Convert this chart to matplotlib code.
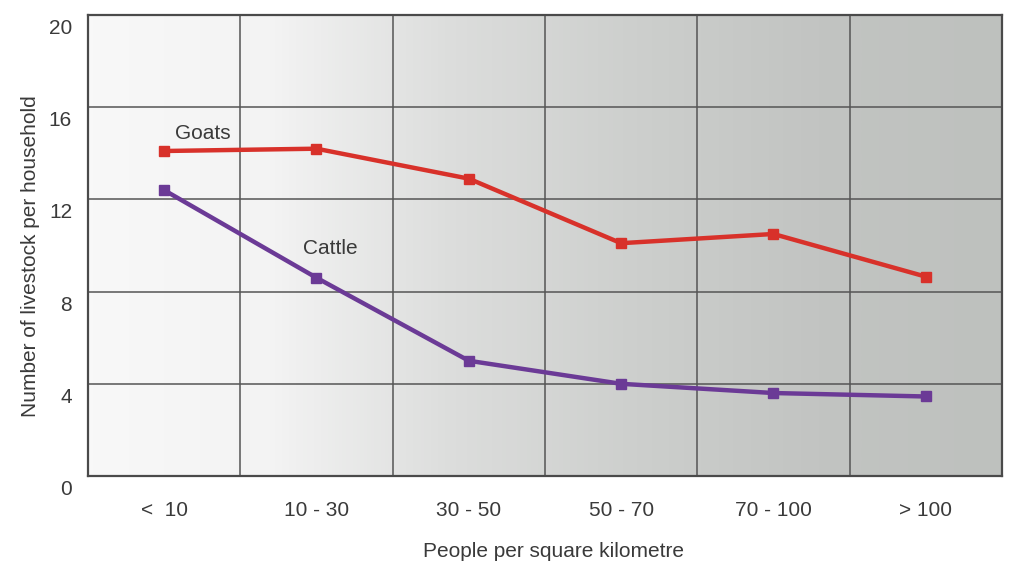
import numpy as np
import matplotlib
matplotlib.use("Agg")
import matplotlib.pyplot as plt
from matplotlib.colors import LinearSegmentedColormap
from matplotlib.transforms import ScaledTranslation

plt.rcParams['font.family'] = ['Liberation Sans', 'DejaVu Sans']

# Data
density_classes = ["<  10", "10 - 30", "30 - 50", "50 - 70", "70 - 100", "> 100"]
goats = [14.1, 14.2, 12.9, 10.1, 10.5, 8.65]
cattle = [12.4, 8.6, 5.0, 4.0, 3.6, 3.45]
y_ticks = [0, 4, 8, 12, 16, 20]

text_color = "#3a3a3a"
grid_color = "#555555"
goat_color = "#d8312a"
cattle_color = "#6b3a96"
fs = 15

fig = plt.figure(figsize=(10.13, 5.66), dpi=100)
ax = fig.add_axes([0.0869, 0.159, 0.9021, 0.8145])

x = np.arange(len(density_classes))
ax.set_xlim(-0.5, len(density_classes) - 0.5)
ax.set_ylim(0, 20)

# Shaded background, light on the left fading to grey on the right
cmap = LinearSegmentedColormap.from_list(
    "shade", ["#f8f8f8", "#f3f3f3", "#dcdddc", "#cdcfcd", "#c2c4c2", "#bec1be"])
grad = np.linspace(0, 1, 256).reshape(1, -1)
ax.imshow(grad, cmap=cmap, aspect="auto", extent=(-0.5, 5.5, 0, 20),
          zorder=0, interpolation="bicubic")

# Grid: horizontal at value ticks, vertical between categories
for yv in y_ticks[1:-1]:
    ax.axhline(yv, color=grid_color, lw=1.1, zorder=1)
for xb in np.arange(0.5, len(density_classes) - 0.5, 1.0):
    ax.axvline(xb, color=grid_color, lw=1.1, zorder=1)

for side in ax.spines.values():
    side.set_color("#4a4a4a")
    side.set_linewidth(1.6)

ax.plot(x, goats, color=goat_color, lw=3.2, marker="s", ms=6.5, zorder=3)
ax.plot(x, cattle, color=cattle_color, lw=3.2, marker="s", ms=6.5, zorder=3)

ax.text(0.07, 14.88, "Goats", color=text_color, fontsize=fs, ha="left", va="center")
ax.text(0.91, 9.87, "Cattle", color=text_color, fontsize=fs, ha="left", va="center")

ax.set_xticks(x)
ax.set_xticklabels(density_classes)
ax.set_yticks(y_ticks)
ax.set_yticklabels([str(v) for v in y_ticks])
ax.tick_params(axis="both", length=0, labelsize=fs, labelcolor=text_color)
ax.tick_params(axis="x", pad=18)
ax.tick_params(axis="y", pad=11.5)
shift = ScaledTranslation(0, -11.5 / 100, fig.dpi_scale_trans)
for lbl in ax.get_yticklabels():
    lbl.set_transform(lbl.get_transform() + shift)

ax.set_xlabel("People per square kilometre", fontsize=fs, color=text_color)
ax.set_ylabel("Number of livestock per household", fontsize=fs, color=text_color)
ax.xaxis.set_label_coords(0.509, -0.144)
ax.yaxis.set_label_coords(-0.0525, 0.477)

fig.savefig("out.png", dpi=100)
